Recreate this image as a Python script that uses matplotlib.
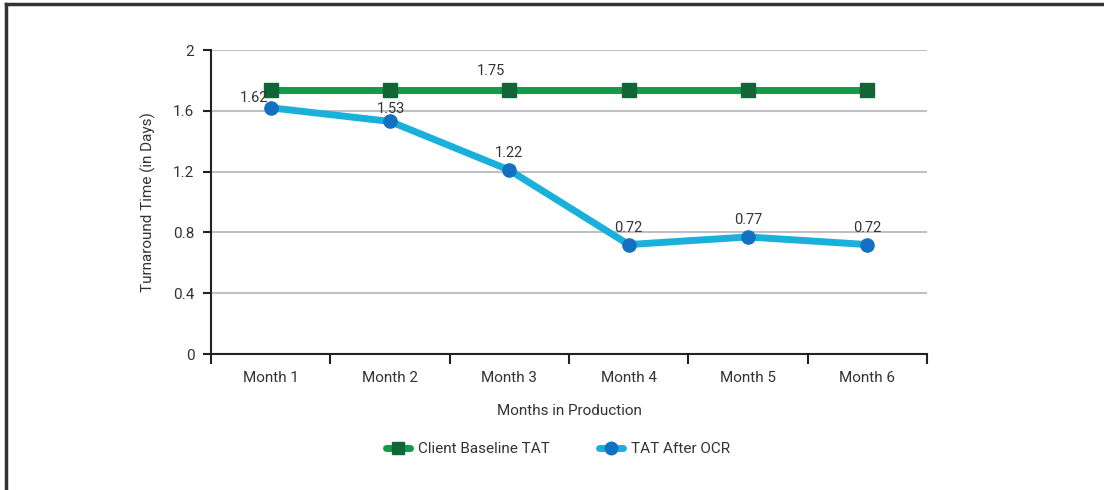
import matplotlib.pyplot as plt
from matplotlib.lines import Line2D
from matplotlib import font_manager

months = ['Month 1', 'Month 2', 'Month 3', 'Month 4', 'Month 5', 'Month 6']
baseline = [1.74, 1.74, 1.74, 1.74, 1.74, 1.74]
after_ocr = [1.62, 1.53, 1.21, 0.72, 0.77, 0.72]
after_labels = ['1.62', '1.53', '1.22', '0.72', '0.77', '0.72']
baseline_label = '1.75'

names = {f.name for f in font_manager.fontManager.ttflist}
fam = ['Liberation Sans Narrow', 'DejaVu Sans'] if 'Liberation Sans Narrow' in names else ['Roboto', 'DejaVu Sans']
plt.rcParams['font.family'] = fam

txt = '#333333'
fig = plt.figure(figsize=(11.04, 4.9), dpi=100)
ax = fig.add_axes([211 / 1104, 1 - 354 / 490, (927 - 211) / 1104, (354 - 50) / 490])

x = list(range(len(months)))
ax.plot(x, baseline, color='#129a48', lw=5, solid_capstyle='round', marker='s', ms=9.5,
        mfc='#126636', mec='#126636', label='Client Baseline TAT', zorder=3)
ax.plot(x, after_ocr, color='#1ab0dc', lw=5, solid_capstyle='round', marker='o', ms=9.5,
        mfc='#1470c0', mec='#1470c0', label='TAT After OCR', zorder=3)

offsets = [(-2, 2), (1, 4), (0, 7), (0, 7), (0, 7), (0, 7)]
for xi, yi, lab, off in zip(x, after_ocr, after_labels, offsets):
    ax.annotate(lab, (xi, yi), xytext=off, textcoords='offset points',
                ha='right' if xi == 0 else 'center', va='bottom', fontsize=10.5, color=txt)
ax.annotate(baseline_label, (2, baseline[2]), xytext=(-13, 8), textcoords='offset points',
            ha='center', va='bottom', fontsize=10.5, color=txt)

ax.set_xlim(-0.5, 5.5)
ax.set_ylim(0, 2)
ax.set_yticks([0, 0.4, 0.8, 1.2, 1.6, 2])
ax.set_yticklabels(['0', '0.4', '0.8', '1.2', '1.6', '2'])
ax.set_xticks(x)
ax.set_xticklabels(months)
ax.set_xticks([i - 0.5 for i in range(7)], minor=True)
ax.tick_params(axis='x', which='major', length=0, pad=12, labelsize=11, labelcolor=txt)
ax.tick_params(axis='x', which='minor', length=7, width=1.5, color='#222222', direction='out')
ax.tick_params(axis='y', length=6, width=1.5, color='#222222', labelsize=11, labelcolor=txt, pad=6)
ax.grid(axis='y', color='#c0c0c4', lw=1.5)
ax.set_axisbelow(True)
for s in ['top', 'right']:
    ax.spines[s].set_visible(False)
for s in ['left', 'bottom']:
    ax.spines[s].set_color('#222222')
    ax.spines[s].set_linewidth(1.5)

ax.set_xlabel('Months in Production', fontsize=11, color=txt, labelpad=14)
ax.set_ylabel('Turnaround Time (in Days)', fontsize=11, color=txt, labelpad=12)

fig.legend(loc='center', bbox_to_anchor=(558 / 1104, 1 - 449 / 490), ncol=2, frameon=False,
           fontsize=11, labelcolor=txt, handlelength=1.6, handletextpad=0.5,
           columnspacing=3.2, markerscale=0.95)

fig.add_artist(Line2D([6 / 1104, 1], [1 - 4 / 490, 1 - 4 / 490], color='#333333', lw=2.5))
fig.add_artist(Line2D([6 / 1104, 6 / 1104], [0, 1 - 4 / 490], color='#333333', lw=2.5))

fig.savefig('out.png', dpi=100)
